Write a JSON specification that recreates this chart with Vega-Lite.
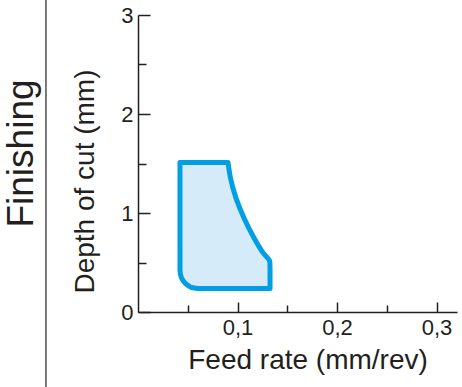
{
  "$schema": "https://vega.github.io/schema/vega-lite/v6.json",
  "width": 319,
  "height": 297,
  "autosize": "none",
  "padding": {"left": 138, "top": 15, "right": 5, "bottom": 75},
  "background": "white",
  "config": {
    "font": "Liberation Sans",
    "view": {"stroke": null},
    "axis": {
      "grid": false,
      "domainColor": "#231f20",
      "domainWidth": 1.5,
      "tickColor": "#231f20",
      "tickWidth": 1.5,
      "labelFontSize": 22,
      "labelColor": "#231f20",
      "titleFontSize": 28,
      "titleFontWeight": "normal",
      "titleColor": "#231f20"
    }
  },
  "title": {
    "text": "Finishing",
    "orient": "left",
    "anchor": "middle",
    "fontSize": 37,
    "fontWeight": "normal",
    "color": "#231f20",
    "offset": 4,
    "dx": 10
  },
  "layer": [
    {
      "data": {
        "values": [
          {"depth": 0.237, "feed_min": 0.0603, "feed_max": 0.1327},
          {"depth": 0.247, "feed_min": 0.0544, "feed_max": 0.1327},
          {"depth": 0.263, "feed_min": 0.0511, "feed_max": 0.1327},
          {"depth": 0.293, "feed_min": 0.0472, "feed_max": 0.1327},
          {"depth": 0.343, "feed_min": 0.0438, "feed_max": 0.1327},
          {"depth": 0.419, "feed_min": 0.0422, "feed_max": 0.1327},
          {"depth": 0.505, "feed_min": 0.0422, "feed_max": 0.1325},
          {"depth": 0.6, "feed_min": 0.0422, "feed_max": 0.1255},
          {"depth": 0.75, "feed_min": 0.0422, "feed_max": 0.1165},
          {"depth": 0.95, "feed_min": 0.0422, "feed_max": 0.1065},
          {"depth": 1.15, "feed_min": 0.0422, "feed_max": 0.0985},
          {"depth": 1.35, "feed_min": 0.0422, "feed_max": 0.093},
          {"depth": 1.51, "feed_min": 0.0422, "feed_max": 0.0905}
        ]
      },
      "mark": {
        "type": "area",
        "orient": "horizontal",
        "interpolate": "monotone",
        "fill": "#d5ebfa",
        "stroke": "#009fe3",
        "strokeWidth": 5,
        "strokeJoin": "round"
      },
      "encoding": {
        "y": {
          "field": "depth",
          "type": "quantitative",
          "scale": {"domain": [0, 3], "nice": false},
          "axis": {
            "title": "Depth of cut (mm)",
            "values": [0, 0.5, 1, 1.5, 2, 2.5, 3],
            "labelExpr": "datum.value % 1 === 0 ? format(datum.value, 'd') : ''",
            "tickSize": {"condition": {"test": "datum.value % 1 === 0", "value": -12}, "value": -8},
            "labelPadding": 17,
            "titleAngle": -90,
            "titleX": -45,
            "titleY": 166,
            "titleAlign": "center",
            "titleBaseline": "alphabetic"
          }
        },
        "x": {
          "field": "feed_min",
          "type": "quantitative",
          "scale": {"domain": [0, 0.3206], "nice": false},
          "axis": {
            "title": "Feed rate (mm/rev)",
            "values": [0.05, 0.1, 0.15, 0.2, 0.25, 0.3],
            "labelExpr": "round(datum.value * 100) % 10 === 0 ? replace(format(datum.value, '.1f'), '.', ',') : ''",
            "tickSize": {"condition": {"test": "round(datum.value * 100) % 10 === 0", "value": -10}, "value": -7},
            "labelPadding": 15,
            "labelDx": -4,
            "titleX": 169.5,
            "titleY": 56,
            "titleAlign": "center",
            "titleBaseline": "alphabetic"
          }
        },
        "x2": {"field": "feed_max"}
      }
    },
    {
      "data": {"values": [{"feed": -0.0925, "depth": -0.76, "depth_end": 3.16}]},
      "mark": {"type": "rule", "color": "#231f20", "strokeWidth": 1.2},
      "encoding": {
        "x": {"field": "feed", "type": "quantitative"},
        "y": {"field": "depth", "type": "quantitative"},
        "y2": {"field": "depth_end"}
      }
    }
  ]
}
